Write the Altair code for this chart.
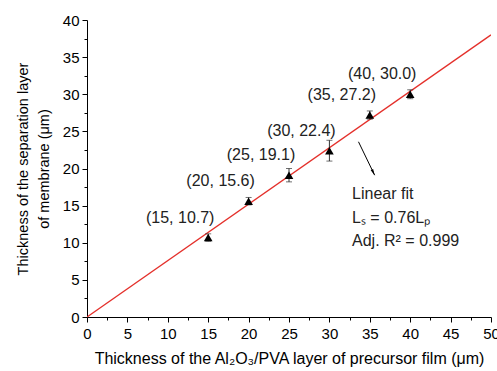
import altair as alt
import pandas as pd

# data
precursor = [15, 20, 25, 30, 35, 40]
separation = [10.7, 15.6, 19.1, 22.4, 27.2, 30.0]
errors = [0.5, 0.5, 0.9, 1.4, 0.55, 0.6]
point_labels = ["(15, 10.7)", "(20, 15.6)", "(25, 19.1)", "(30, 22.4)", "(35, 27.2)", "(40, 30.0)"]

fit_x = [0, 50]
fit_slope = 0.76

annot_lines = ["Linear fit", "Lₛ = 0.76Lₚ", "Adj. R² = 0.999"]
annot_x = [32.8, 32.8, 32.8]
annot_y = [16.6, 13.4, 10.2]

arrow_start = (33.6, 23.6)
arrow_end = (35.6, 19.1)

x_major = list(range(0, 51, 5))
x_minor = [2.5 + 5 * i for i in range(10)]
y_major = list(range(0, 41, 5))
y_minor = [2.5 + 5 * i for i in range(8)]

FONT = "Liberation Sans"

df = pd.DataFrame({
    "x": precursor,
    "y": separation,
    "lo": [v - e for v, e in zip(separation, errors)],
    "hi": [v + e for v, e in zip(separation, errors)],
    "label": point_labels,
})
fit_df = pd.DataFrame({"x": fit_x, "y": [fit_slope * v for v in fit_x]})
annot_df = pd.DataFrame({"x": annot_x, "y": annot_y, "t": annot_lines})
arrow_df = pd.DataFrame({"x": [arrow_start[0]], "y": [arrow_start[1]],
                         "x2": [arrow_end[0]], "y2": [arrow_end[1]]})
head_df = pd.DataFrame({"x": [arrow_end[0]], "y": [arrow_end[1]]})

x_axis = alt.Axis(
    values=x_major, orient="bottom",
    title="Thickness of the Al₂O₃/PVA layer of precursor film (μm)",
    grid=False, domainColor="black", tickColor="black", tickSize=5,
    labelFont=FONT, labelFontSize=15, labelColor="black", labelPadding=4,
    labelOverlap=False, labelFlush=False,
    titleFont=FONT, titleFontSize=16, titleFontWeight="normal", titleColor="black",
    titlePadding=9,
)
y_axis = alt.Axis(
    values=y_major, orient="left",
    title=["Thickness of the separation layer", "of membrane (μm)"],
    grid=False, domainColor="black", tickColor="black", tickSize=5,
    labelFont=FONT, labelFontSize=15, labelColor="black", labelPadding=3,
    labelOverlap=False, labelFlush=False,
    titleFont=FONT, titleFontSize=14.5, titleFontWeight="normal", titleColor="black",
    titleLineHeight=21, titlePadding=11,
)
x_minor_axis = alt.Axis(values=x_minor, orient="bottom", labels=False, domain=False,
                        grid=False, tickColor="black", tickSize=3, title=None)
y_minor_axis = alt.Axis(values=y_minor, orient="left", labels=False, domain=False,
                        grid=False, tickColor="black", tickSize=3, title=None)

xs = alt.Scale(domain=[0, 50], nice=False, zero=False)
ys = alt.Scale(domain=[0, 40], nice=False, zero=False)

fit = alt.Chart(fit_df).mark_line(color="#e4302b", strokeWidth=1.3, clip=True).encode(
    x=alt.X("x:Q", scale=xs, axis=x_axis),
    y=alt.Y("y:Q", scale=ys, axis=y_axis),
)

err_rule = alt.Chart(df).mark_rule(color="#333333", strokeWidth=1).encode(
    x=alt.X("x:Q", scale=xs, axis=x_minor_axis),
    y=alt.Y("lo:Q", scale=ys, axis=y_minor_axis),
    y2="hi:Q")
cap_hi = alt.Chart(df).mark_tick(color="#333333", orient="horizontal", size=6, thickness=1).encode(
    x=alt.X("x:Q", axis=None), y=alt.Y("hi:Q", axis=None))
cap_lo = alt.Chart(df).mark_tick(color="#333333", orient="horizontal", size=6, thickness=1).encode(
    x=alt.X("x:Q", axis=None), y=alt.Y("lo:Q", axis=None))

pts = alt.Chart(df).mark_point(shape="triangle-up", filled=True, color="black", size=75, opacity=1).encode(
    x=alt.X("x:Q", axis=None), y=alt.Y("y:Q", axis=None))

labels = alt.Chart(df).mark_text(font=FONT, fontSize=16, color="#222222", dx=-28, dy=-20).encode(
    x=alt.X("x:Q", axis=None), y=alt.Y("y:Q", axis=None), text="label:N")

annot = alt.Chart(annot_df).mark_text(font=FONT, fontSize=16, color="#222222", align="left").encode(
    x=alt.X("x:Q", axis=None), y=alt.Y("y:Q", axis=None), text="t:N")

arrow = alt.Chart(arrow_df).mark_rule(color="black", strokeWidth=1).encode(
    x=alt.X("x:Q", axis=None), y=alt.Y("y:Q", axis=None), x2="x2:Q", y2="y2:Q")
head = alt.Chart(head_df).mark_point(
    shape="M0,0L-0.35,-1.6L0.35,-1.6Z", filled=True, color="black", size=60, angle=334, opacity=1
).encode(x=alt.X("x:Q", axis=None), y=alt.Y("y:Q", axis=None))

chart = alt.layer(fit, err_rule, cap_hi, cap_lo, pts, labels, annot, arrow, head).resolve_axis(
    x="independent", y="independent"
).properties(
    width=404, height=297,
    autosize=alt.AutoSizeParams(type="none"),
    padding={"left": 87, "top": 20, "right": 6, "bottom": 54},
    background="white",
).configure_view(stroke=None)

chart.save("out.html", embed_options={"renderer": "svg", "actions": False})
